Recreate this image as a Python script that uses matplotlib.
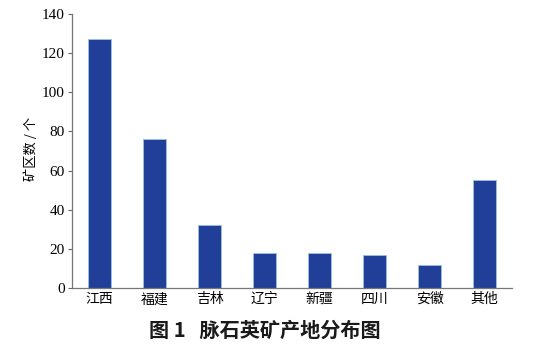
import matplotlib.pyplot as plt

provinces = ["江西", "福建", "吉林", "辽宁", "新疆", "四川", "安徽", "其他"]
counts = [127, 76, 32, 18, 18, 17, 12, 55]
yticks = [0, 20, 40, 60, 80, 100, 120, 140]

plt.rcParams["font.family"] = ["Noto Sans CJK SC", "DejaVu Sans"]

fig = plt.figure(figsize=(5.38, 3.6), dpi=100)
ax = fig.add_axes([0.1338, 0.2, 0.818, 0.761])

ax.bar(range(len(provinces)), counts, width=0.42, color="#213f98",
       edgecolor="#9cc3dc", linewidth=0.6)
ax.set_xlim(-0.5, len(provinces) - 0.5)
ax.set_ylim(0, 140)
ax.set_yticks(yticks)
ax.set_yticklabels([str(v) for v in yticks], family="Liberation Serif", fontsize=11)
ax.set_xticks(range(len(provinces)))
ax.set_xticklabels(provinces, fontsize=10)
ax.tick_params(axis="x", length=0, pad=3)
ax.tick_params(axis="y", length=3, color="#666666", pad=2)

for s in ["top", "right"]:
    ax.spines[s].set_visible(False)
for s in ["left", "bottom"]:
    ax.spines[s].set_color("#777777")
    ax.spines[s].set_linewidth(0.9)

fig.text(0.058, 0.585, "矿区数 / 个", rotation=90, ha="center", va="center", fontsize=9.5)
fig.text(0.493, 0.082, "图 1   脉石英矿产地分布图", ha="center", va="center",
         fontsize=14.5, fontweight="bold", color="#1a1a1a")

fig.savefig("out.png", dpi=100)
